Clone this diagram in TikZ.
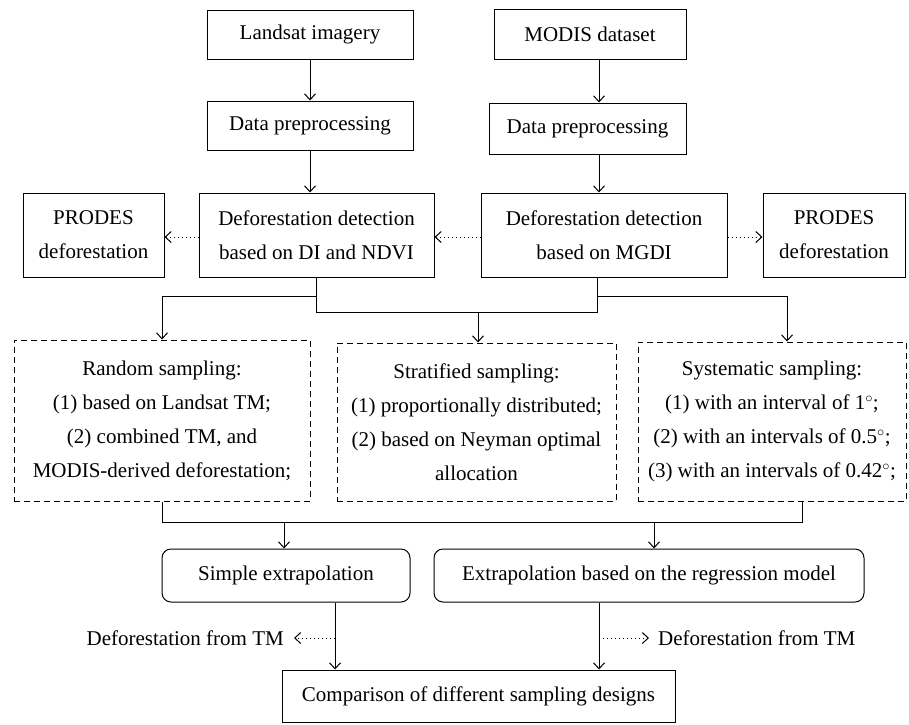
\documentclass[tikz,border=0pt]{standalone}
\usepackage{fontspec}
\setmainfont{Liberation Serif}
\usetikzlibrary{arrows.meta}
\newcommand{\degr}{\ensuremath{^{\circ}}}
\begin{document}
\begin{tikzpicture}[x=1pt,y=-1pt,
 box/.style={draw, line width=1pt, inner sep=0pt, align=center, font=\fontsize{21}{34}\selectfont},
 dbox/.style={box, dash pattern=on 6pt off 4pt},
 rbox/.style={box, rounded corners=9pt},
 lab/.style={inner sep=0pt, font=\fontsize{21}{34}\selectfont},
 arr/.style={line width=1pt, -{Straight Barb[length=6pt,width=11pt]}},
 dotarr/.style={line width=1pt, dash pattern=on 1pt off 3pt, -{Straight Barb[length=6pt,width=11pt]}},
 ln/.style={line width=1pt}]
\useasboundingbox (0,0) rectangle (909,724);

\node[box, minimum width=206pt, minimum height=49pt] (land) at (310,34.5) {Landsat imagery};
\node[box, minimum width=192pt, minimum height=50pt] (modis) at (590,34) {MODIS dataset};
\node[box, minimum width=206pt, minimum height=49pt] (dpl) at (310,125.5) {Data preprocessing};
\node[box, minimum width=197pt, minimum height=51pt] (dpr) at (587.5,128.5) {Data preprocessing};
\node[box, minimum width=235pt, minimum height=84pt] (detl) at (316.5,235) {Deforestation detection\\based on DI and NDVI};
\node[box, minimum width=246pt, minimum height=84pt] (detr) at (604,235) {Deforestation detection\\based on MGDI};
\node[box, minimum width=141pt, minimum height=84pt] (prl) at (93.5,235) {PRODES\\deforestation};
\node[box, minimum width=142pt, minimum height=84pt] (prr) at (834,235) {PRODES\\deforestation};

\node[dbox, minimum width=296pt, minimum height=161pt] (rand) at (162,420.5) {Random sampling:\\(1) based on Landsat TM;\\(2) combined TM, and\\MODIS-derived deforestation;};
\node[dbox, minimum width=279pt, minimum height=158pt] (strat) at (476.5,422) {Stratified sampling:\\(1) proportionally distributed;\\(2) based on Neyman optimal\\allocation};
\node[dbox, minimum width=268pt, minimum height=159pt] (syst) at (772,421.5) {Systematic sampling:\\(1) with an interval of 1\degr;\\(2) with an intervals of 0.5\degr;\\(3) with an intervals of 0.42\degr;};

\node[rbox, minimum width=248pt, minimum height=53pt] (simp) at (286,575.5) {Simple extrapolation};
\node[rbox, minimum width=430pt, minimum height=53pt] (regr) at (649,575.5) {Extrapolation based on the regression model};
\node[box, minimum width=393pt, minimum height=52pt] (comp) at (478.5,696) {Comparison of different sampling designs};

\node[lab, anchor=east] (tl) at (284,638) {Deforestation from TM};
\node[lab, anchor=west] (tr) at (658,638) {Deforestation from TM};

% top arrows
\draw[arr] (land.south) -- (land.south |- dpl.north);
\draw[arr] ([xshift=9pt]modis.south) -- ([xshift=9pt]modis.south |- dpr.north);
\draw[arr] (dpl.south) -- (dpl.south |- detl.north);
\draw[arr] ([xshift=11.5pt]dpr.south) -- ([xshift=11.5pt]dpr.south |- detr.north);

% dotted
\draw[dotarr] ([yshift=-2pt]detl.west) -- ([yshift=-2pt]prl.east);
\draw[dotarr] ([yshift=-2pt]detr.west) -- ([yshift=-2pt]detl.east);
\draw[dotarr] ([yshift=-2pt]detr.east) -- ([yshift=-2pt]prr.west);

% tree to sampling
\coordinate (bus) at (0,312);
\coordinate (br) at (0,296);
\draw[ln] (detl.south) -- (detl.south |- bus) -- ([xshift=-7pt]detr.south |- bus) -- ([xshift=-7pt]detr.south);
\draw[arr] (detl.south |- br) -| (rand.north);
\draw[arr] ([xshift=-7pt]detr.south |- br) -| ([xshift=15pt]syst.north);
\draw[arr] ([xshift=1.5pt]strat.north |- bus) -- ([xshift=1.5pt]strat.north);

% bottom
\coordinate (bus2) at (0,522);
\draw[ln] (rand.south) -- (rand.south |- bus2) -- ([xshift=30pt]syst.south |- bus2) -- ([xshift=30pt]syst.south);
\draw[arr] ([xshift=-2pt]simp.north |- bus2) -- ([xshift=-2pt]simp.north);
\draw[arr] ([xshift=5pt]regr.north |- bus2) -- ([xshift=5pt]regr.north);
\draw[arr] ([xshift=49pt]simp.south) -- ([xshift=49pt]simp.south |- comp.north);
\draw[arr] ([xshift=-50pt]regr.south) -- ([xshift=-50pt]regr.south |- comp.north);
\draw[dotarr] ([xshift=49pt]simp.south |- tl.east) -- ([xshift=10pt]tl.east);
\draw[dotarr] ([xshift=-50pt]regr.south |- tr.west) -- ([xshift=-9pt]tr.west);
\end{tikzpicture}
\end{document}
